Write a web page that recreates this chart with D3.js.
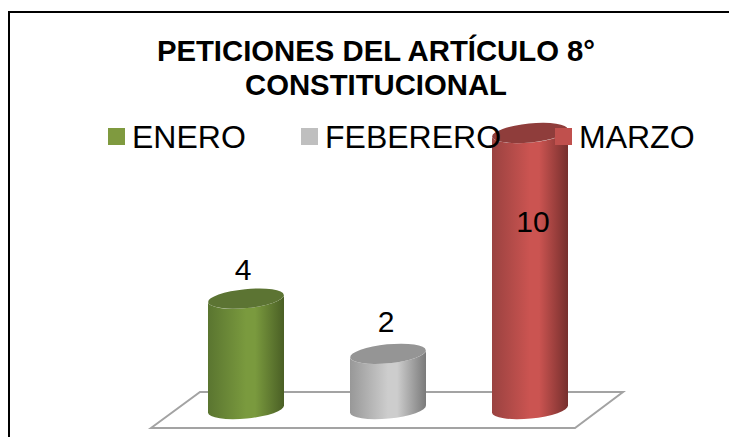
<!DOCTYPE html>
<html>
<head>
<meta charset="utf-8">
<script src="https://cdn.jsdelivr.net/npm/d3@7"></script>
<style>
  html, body { margin: 0; padding: 0; background: #fff; overflow: hidden; }
  svg { display: block; font-family: "Liberation Sans", Arial, sans-serif; }
</style>
</head>
<body>
<svg width="729" height="437"></svg>
<script>
const titleLines = ["PETICIONES DEL ARTÍCULO 8°", "CONSTITUCIONAL"];
const months = ["ENERO", "FEBERERO", "MARZO"];
const values = [4, 2, 10];
const swatchColors = ["#7f9a3f", "#bfbfbf", "#c0504d"];
const topColors = ["#5c7433", "#959595", "#8f3d3b"];
const sideStops = [
  ["#5a7530", "#7a9a3e", "#7a9a3e", "#4a5f25"],
  ["#989898", "#cdcdcd", "#cdcdcd", "#7a7a7a"],
  ["#9a4240", "#cb5451", "#cb5451", "#762f2d"]
];

const svg = d3.select("svg");

const x = d3.scalePoint().domain(months).range([246, 530]);
const y = d3.scaleLinear().domain([0, 10]).range([409, 133]);

const rx = 38, ry = 9.5, tilt = -5.5;
const dy = rx * Math.tan(-tilt * Math.PI / 180);

// frame, only top and left edges are in the picture
svg.append("path")
  .attr("d", "M9,437V12H729")
  .attr("fill", "none")
  .attr("stroke", "#000")
  .attr("stroke-width", 2);

// floor
svg.append("polygon")
  .attr("points", "151,428 200,392 623,392 575,428")
  .attr("fill", "#fff")
  .attr("stroke", "#a3a3a3")
  .attr("stroke-width", 2);

const defs = svg.append("defs");
months.forEach((m, i) => {
  const grad = defs.append("linearGradient").attr("id", "side" + i);
  [0, 0.5, 0.62, 1].forEach((o, j) => {
    grad.append("stop").attr("offset", o).attr("stop-color", sideStops[i][j]);
  });
});

// cylinders
const bars = svg.selectAll(".bar")
  .data(months.map((m, i) => ({month: m, value: values[i], i})))
  .join("g")
    .attr("class", "bar");

bars.append("path")
  .attr("fill", d => `url(#side${d.i})`)
  .attr("d", d => {
    const cx = x(d.month), top = y(d.value), base = y(0);
    return `M${cx - rx},${top + dy}L${cx - rx},${base + dy}`
      + `A${rx},${ry} ${tilt} 0 0 ${cx + rx},${base - dy}`
      + `L${cx + rx},${top - dy}`
      + `A${rx},${ry} ${tilt} 0 1 ${cx - rx},${top + dy}Z`;
  });

bars.append("ellipse")
  .attr("rx", rx)
  .attr("ry", ry)
  .attr("fill", d => topColors[d.i])
  .attr("transform", d => `translate(${x(d.month)},${y(d.value)}) rotate(${tilt})`);

// value labels
const labelFor = [
  {dx: -3, dy: -19},
  {dx: -2, dy: -22},
  {dx: 3, dy: 99}
];
bars.append("text")
  .attr("x", d => x(d.month) + labelFor[d.i].dx)
  .attr("y", d => y(d.value) + labelFor[d.i].dy)
  .attr("text-anchor", "middle")
  .attr("font-size", 30)
  .attr("fill", "#000")
  .text(d => d.value);

// title
svg.append("text")
  .attr("text-anchor", "middle")
  .attr("font-weight", "bold")
  .attr("font-size", 29.3)
  .attr("fill", "#000")
  .selectAll("tspan")
  .data(titleLines)
  .join("tspan")
    .attr("x", 376)
    .attr("y", (d, i) => 61 + i * 34)
    .text(d => d);

// legend
const legendX = [108, 301, 555];
const legend = svg.selectAll(".legend")
  .data(months)
  .join("g")
    .attr("class", "legend")
    .attr("transform", (d, i) => `translate(${legendX[i]},128)`);

legend.append("rect")
  .attr("width", 17)
  .attr("height", 17)
  .attr("fill", (d, i) => swatchColors[i]);

legend.append("text")
  .attr("x", 24)
  .attr("y", 19.5)
  .attr("font-size", 32)
  .attr("fill", "#000")
  .text(d => d);
</script>
</body>
</html>
